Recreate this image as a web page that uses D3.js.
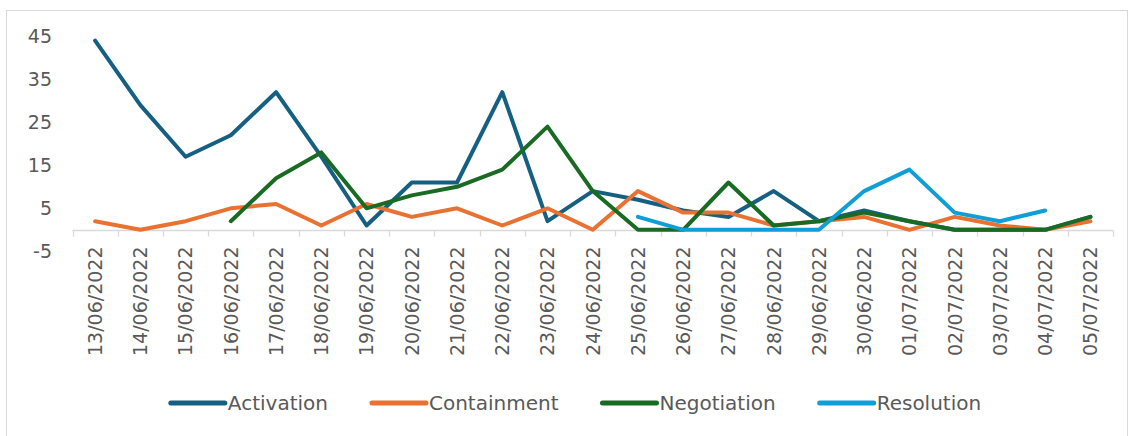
<!DOCTYPE html>
<html>
<head>
<meta charset="utf-8">
<script src="https://cdn.jsdelivr.net/npm/d3@7"></script>
<style>
  html, body { margin: 0; padding: 0; background: #ffffff; }
  svg { display: block; }
  text { font-family: "DejaVu Sans", "Liberation Sans", sans-serif; fill: #595959; }
</style>
</head>
<body>
<svg id="chart" width="1130" height="436"></svg>
<script>
// Daily counts per phase, 13 June – 5 July 2022
const categories = [
  "13/06/2022", "14/06/2022", "15/06/2022", "16/06/2022", "17/06/2022", "18/06/2022",
  "19/06/2022", "20/06/2022", "21/06/2022", "22/06/2022", "23/06/2022", "24/06/2022",
  "25/06/2022", "26/06/2022", "27/06/2022", "28/06/2022", "29/06/2022", "30/06/2022",
  "01/07/2022", "02/07/2022", "03/07/2022", "04/07/2022", "05/07/2022"
];
const activation  = [44, 29, 17, 22, 32, 17, 1, 11, 11, 32, 2, 9, 7, 4.5, 3, 9, 2, 4.5, 2, 0, 0, 0, 3];
const containment = [2, 0, 2, 5, 6, 1, 6, 3, 5, 1, 5, 0, 9, 4, 4, 1, 2, 3, 0, 3, 1, 0, 2];
const negotiation = [null, null, null, 2, 12, 18, 5, 8, 10, 14, 24, 9, 0, 0, 11, 1, 2, 4, 2, 0, 0, 0, 3];
const resolution  = [null, null, null, null, null, null, null, null, null, null, null, null,
                     3, 0, 0, 0, 0, 9, 14, 4, 2, 4.5, null];
const seriesNames = ["Activation", "Containment", "Negotiation", "Resolution"];
const yTicks = [-5, 5, 15, 25, 35, 45];

const colors = ["#156082", "#E97132", "#196B24", "#0F9ED5"];
const seriesValues = [activation, containment, negotiation, resolution];

const svg = d3.select("#chart");

// chart frame
svg.append("rect")
  .attr("x", 6.5).attr("y", 10.5)
  .attr("width", 1121).attr("height", 440)
  .attr("fill", "#ffffff")
  .attr("stroke", "#d9d9d9");

const x = d3.scaleBand().domain(categories).range([72.5, 1113]).padding(0);
const y = d3.scaleLinear().domain([-5, 45]).range([251.3, 36.3]);
const cx = c => x(c) + x.bandwidth() / 2;

// value axis labels (no line, no gridlines)
const yAxis = svg.append("g")
  .attr("transform", "translate(52,0)")
  .call(d3.axisLeft(y).tickValues(yTicks).tickSize(0).tickPadding(0).tickFormat(d => String(d)));
yAxis.select(".domain").remove();
yAxis.selectAll("text")
  .style("font-size", "19px")
  .style("font-family", "DejaVu Sans, sans-serif")
  .attr("fill", "#595959");

// category axis at zero
const y0 = Math.round(y(0)) + 0.5;
const xAxis = svg.append("g")
  .attr("transform", `translate(0,${y0})`)
  .call(d3.axisBottom(x).tickSize(0).tickPadding(0));
xAxis.select(".domain").remove();
xAxis.selectAll("text")
  .attr("transform", "rotate(-90)")
  .attr("x", -16)
  .attr("y", 0)
  .attr("dy", "0.36em")
  .style("text-anchor", "end")
  .style("font-size", "19px")
  .style("font-family", "DejaVu Sans, sans-serif")
  .attr("fill", "#595959");

const bounds = categories.map(c => x(c)).concat([x.range()[1]]);
svg.append("line")
  .attr("x1", x.range()[0]).attr("x2", x.range()[1])
  .attr("y1", y0).attr("y2", y0)
  .attr("stroke", "#d9d9d9").attr("stroke-width", 1.3);
svg.append("g").selectAll("line")
  .data(bounds)
  .join("line")
  .attr("x1", d => Math.round(d) + 0.5).attr("x2", d => Math.round(d) + 0.5)
  .attr("y1", y0).attr("y2", y0 + 6)
  .attr("stroke", "#d9d9d9").attr("stroke-width", 1.3);

// series lines
const line = d3.line()
  .defined(d => d.v != null)
  .x(d => cx(d.c))
  .y(d => y(d.v));

svg.append("g").selectAll("path")
  .data(seriesValues.map((vals, i) => ({ name: seriesNames[i], color: colors[i],
    pts: vals.map((v, j) => ({ c: categories[j], v })) })))
  .join("path")
  .attr("d", d => line(d.pts))
  .attr("fill", "none")
  .attr("stroke", d => d.color)
  .attr("stroke-width", 4)
  .attr("stroke-linejoin", "round")
  .attr("stroke-linecap", "round");

// legend, centred below the axis labels
const legend = svg.append("g").attr("transform", "translate(0,403)");
const items = legend.selectAll("g")
  .data(seriesNames.map((n, i) => ({ name: n, color: colors[i] })))
  .join("g");
items.append("line")
  .attr("x1", 0).attr("x2", 54)
  .attr("stroke", d => d.color)
  .attr("stroke-width", 5)
  .attr("stroke-linecap", "round");
items.append("text")
  .attr("x", 57)
  .attr("dy", "0.36em")
  .style("font-size", "20px")
  .text(d => d.name);
const gap = 44;
let widths = [];
items.each(function () {
  widths.push(57 + d3.select(this).select("text").node().getComputedTextLength());
});
const total = d3.sum(widths) + gap * (widths.length - 1);
let pos = 576 - total / 2;
items.attr("transform", (d, i) => {
  const t = `translate(${pos},0)`;
  pos += widths[i] + gap;
  return t;
});
</script>
</body>
</html>
